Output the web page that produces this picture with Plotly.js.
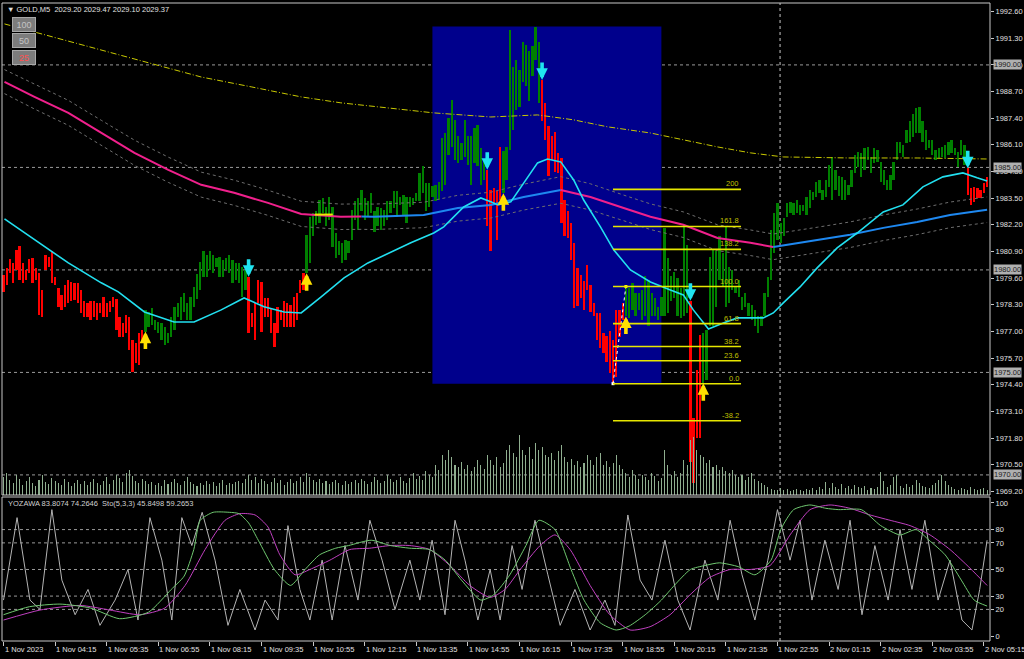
<!DOCTYPE html>
<html><head><meta charset="utf-8">
<script src="https://cdn.plot.ly/plotly-3.0.1.min.js"></script>
<style>html,body{margin:0;padding:0;background:#000;overflow:hidden}#chart{width:1024px;height:659px}</style>
</head><body><div id="chart"></div>
<script>
// ---------- DATA ----------
const highs = [
1979.76,1980.08,1980.52,1980.33,1980.98,1981.17,1980.33,1980.0,1980.52,1980.57,1980.08,1979.87,1979.02,1980.73,1980.65,1980.9,1979.67,1979.1,1978.78,1979.27,1979.51,1979.4,1979.35,1979.35,1979.02,1978.46,1978.37,1978.46,1978.46,1978.37,1978.37,1978.7,1978.37,1978.46,1978.7,1978.57,1977.72,1977.4,1977.8,1977.72,1976.58,1976.42,1976.91,1977.07,
1978.05,1977.97,1978.13,1977.56,1977.48,1977.4,1977.23,1976.91,1977.72,1978.21,1978.37,1978.7,1978.86,1978.37,1978.7,1979.19,1979.8,1980.41,1980.9,1980.73,1980.9,1980.73,1980.57,1980.65,1980.49,1980.57,1980.73,1980.49,1980.33,1980.33,1980.16,1980.0,
1979.67,1977.89,1978.37,1979.51,1979.43,1978.62,1978.62,1978.13,1977.4,1978.21,1978.05,1978.46,1978.37,1978.29,1978.7,1978.86,1979.51,1979.84,
1981.7,1982.6,1982.77,1982.85,1983.42,1983.5,1983.09,1983.58,1983.09,1981.79,1981.39,1981.31,1981.47,1981.39,1982.93,1983.34,1983.5,1983.91,1983.5,1983.34,1983.74,1982.85,1983.09,1983.01,1982.93,1983.34,1983.34,1983.83,1983.83,1983.58,1983.66,1983.58,1983.58,1983.5,1983.74,1984.72,1985.05,1984.23,1984.23,1984.07,1984.15,1984.31,1986.43,1986.67,1987.4,1988.3,1987.32,1986.51,1986.18,1987.32,1986.51,1986.51,1986.92,1987.08,1985.94,1985.37,
1984.88,1983.91,1983.99,1983.83,1986.02,
1985.78,1986.02,1991.71,1989.92,1990.25,1989.76,1991.14,1990.98,1990.66,1990.9,1991.87,1991.14,
1989.27,1988.13,1987.0,1986.51,1986.75,1985.69,1985.45,1983.42,1982.85,1982.28,1981.31,1980.09,1979.76,1979.44,1980.25,1979.27,1978.38,1977.89,1977.89,1976.92,1976.8,1977.0,1976.59,1978.05,1978.05,1978.38,
1979.19,1979.11,1979.35,1978.86,1978.86,1979.03,1979.68,1979.51,1978.86,1978.62,1978.21,1978.7,1982.03,1980.57,1979.68,1979.92,1979.6,1979.11,1982.12,1981.22,
1978.5,1972.77,1975.12,1976.83,
1976.91,1977.08,1980.65,1980.98,1980.9,1981.63,1980.81,1982.12,1980.16,1980.0,1979.19,1979.51,1978.7,1978.86,1978.38,1978.29,1978.05,1977.73,1977.73,1978.86,
1979.67,1981.95,1982.76,1983.25,1982.28,1982.52,1983.25,1983.33,1983.25,1983.41,1983.17,1983.17,1983.58,1983.9,1983.82,1984.31,1984.39,1983.9,1984.39,1985.12,1985.53,1984.88,1984.6,1984.55,1984.39,1984.14,1984.88,1985.61,1985.77,1985.69,1985.93,1986.02,1985.53,1985.93,1985.85,1985.28,1984.88,1984.39,1984.63,1985.28,1986.26,1986.26,1986.1,1986.83,1987.24,1987.6,1987.89,1987.97,1987.24,1986.83,1986.34,1986.34,1985.85,1985.93,1986.0,1986.1,1986.26,1986.34,1985.93,1985.77,1986.34,1986.1,
1984.96,1983.98,1984.06,1983.98,1983.9,1984.23,1984.55
];
const lows = [
1978.94,1979.27,1979.87,1979.35,1980.0,1979.51,1979.35,1979.51,1979.87,1979.35,1979.51,1977.8,1977.72,1980.0,1980.16,1979.35,1979.27,1978.21,1978.05,1978.21,1978.37,1978.5,1978.54,1978.37,1977.89,1977.72,1977.72,1977.56,1977.72,1977.56,1977.89,1977.72,1977.72,1977.97,1978.21,1977.07,1976.75,1976.75,1976.91,1976.1,1975.04,1975.45,1975.37,1976.42,
1976.99,1977.23,1977.32,1977.07,1976.91,1976.58,1976.34,1976.42,1976.75,1977.07,1977.72,1977.56,1977.97,1977.56,1977.56,1978.21,1978.6,1979.02,1979.67,1979.67,1980.0,1979.84,1980.16,1979.67,1979.67,1980.0,1979.84,1979.35,1979.51,1979.35,1978.7,1979.02,
1976.91,1977.23,1976.58,1978.37,1976.99,1977.72,1977.72,1976.91,1976.26,1976.91,1977.56,1977.23,1977.23,1977.23,1977.23,1977.56,1978.86,1979.02,
1979.84,1980.33,1981.63,1982.2,1982.28,1982.77,1982.12,1982.44,1981.14,1980.57,1980.74,1980.33,1980.49,1980.82,1981.47,1982.44,1981.96,1982.85,1982.44,1982.6,1982.77,1981.87,1982.12,1981.96,1982.12,1982.44,1982.77,1983.01,1982.6,1983.18,1982.69,1982.28,1983.09,1983.18,1983.34,1983.34,1983.74,1982.85,1983.09,1983.58,1983.34,1983.42,1983.83,1984.15,1985.61,1986.02,1985.37,1985.21,1985.37,1985.53,1985.13,1984.15,1985.21,1985.05,1984.15,1984.4,
1982.12,1980.9,1983.18,1981.47,1983.42,
1983.74,1984.4,1985.86,1986.83,1987.81,1987.97,1989.19,1988.95,1988.22,1989.44,1990.25,1988.13,
1987.24,1986.35,1984.56,1985.37,1984.8,1984.72,1982.28,1981.63,1981.55,1980.49,1978.13,1978.22,1978.62,1978.05,1979.03,1977.97,1977.73,1976.59,1976.18,1975.94,1975.5,1974.96,1974.45,1974.8,1976.75,1977.57,
1977.73,1977.64,1978.05,1977.73,1978.05,1977.56,1977.73,1977.24,1977.73,1977.73,1977.56,1977.73,1977.73,1977.89,1978.46,1978.62,1977.73,1977.64,1977.73,1977.89,
1970.65,1969.59,1971.79,1971.79,
1974.47,1974.64,1977.24,1977.24,1978.21,1979.51,1979.19,1978.21,1978.38,1979.03,1978.86,1978.7,1978.05,1978.21,1977.73,1977.56,1977.24,1976.91,1977.24,1977.73,
1978.7,1979.51,1980.81,1981.46,1981.3,1981.63,1982.6,1982.76,1982.68,1982.76,1982.68,1982.85,1982.68,1983.01,1983.41,1983.58,1983.74,1983.41,1983.58,1984.06,1983.41,1983.9,1983.6,1983.41,1983.41,1983.66,1984.06,1984.71,1985.04,1984.55,1984.88,1985.37,1984.71,1985.2,1985.28,1984.31,1984.14,1983.9,1983.9,1984.39,1985.37,1985.69,1985.53,1986.18,1986.26,1986.5,1986.67,1986.67,1986.26,1985.85,1985.93,1985.61,1985.37,1985.45,1985.5,1985.45,1985.61,1985.69,1985.61,1985.04,1985.61,1985.12,
1983.66,1983.17,1983.33,1983.5,1983.5,1983.74,1984.06
];
// trend colouring runs: [count, direction]
const trendRuns = [[44,'dn'],[32,'up'],[18,'dn'],[56,'up'],[5,'dn'],[12,'up'],[26,'dn'],[20,'up'],[4,'dn'],[82,'up'],[7,'dn']];
const volume = [
18,22,15,12,20,16,10,14,18,12,9,15,20,13,11,17,14,12,10,16,13,9,12,15,11,14,10,13,16,12,10,14,18,11,15,20,17,13,22,25,19,14,12,16,
14,11,13,10,12,9,15,11,13,16,12,10,14,18,13,11,9,12,10,14,11,13,9,12,15,10,12,11,13,14,12,16,
20,15,18,12,16,14,11,13,17,12,15,10,13,16,12,14,18,13,
22,18,15,13,16,12,14,11,13,15,12,10,14,11,13,15,12,16,14,11,13,18,15,12,14,20,16,13,15,18,14,12,17,22,16,19,15,24,20,18,
30,25,40,35,45,38,30,28,33,26,30,24,28,35,30,26,
40,35,30,38,28,32,45,50,42,38,60,45,40,48,36,52,45,
48,40,38,42,35,44,50,38,33,36,30,34,28,32,40,35,30,38,42,30,34,28,32,40,30,26,
22,18,25,20,16,20,18,15,22,19,14,17,45,30,20,24,18,22,35,30,
55,58,45,40,38,32,35,28,30,25,28,24,22,25,20,18,20,15,18,22,16,14,12,10,
8,6,5,5,7,5,6,4,5,6,5,4,6,5,7,5,8,6,13,7,12,8,6,11,7,9,6,10,8,7,9,5,7,6,8,23,14,8,10,18,20,9,7,11,8,10,15,12,9,8,7,10,12,15,20,14,10,8,6,5,7,6,5,8,6,5,6,7,5
];
// fast MA (cyan)
const fastMaX = [0.3,9.6,14.9,20.1,30.3,35.6,43.7,52.9,59.1,67.5,74.6,80.8,87,92.3,98.5,105.6,113,120.1,126.3,133.4,136.5,142.7,148,151.1,153.3,157.3,161.3,165.6,168.7,172.8,176.8,179.9,185.1,189.2,194.4,200.6,206.8,210.8,213.9,218.6,223.2,227.6,235.6,238.7,241.8,247,252.3,258.5,264.7,272.8,278.9,285.1,291.3,297.5,301.9,305];
const fastMaY = [1982.49,1981.46,1980.88,1980.34,1979.37,1978.93,1977.95,1977.46,1977.46,1978.05,1978.63,1978.2,1977.95,1977.9,1978.68,1979.61,1980.34,1980.88,1981.32,1981.8,1982.1,1983.07,1983.51,1983.32,1983.17,1983.32,1984.24,1985.22,1985.41,1985.27,1984.39,1983.41,1982.1,1980.98,1980.0,1979.41,1979.02,1978.78,1978.05,1977.12,1977.41,1977.66,1977.66,1977.9,1978.39,1979.17,1980.1,1981.07,1981.8,1982.83,1983.17,1984.05,1984.54,1984.73,1984.49,1984.34];
// slow MA (magenta falling / blue rising) and its envelope
const slowMaX = [0.3,9.6,20.1,30.3,40.6,51.1,61.3,71.5,82,92.3,104.6,111,114.9,130.3,140.9,151.1,161.3,172.8,182,192.3,200.6,210.8,221.4,231.6,238.7,252.3,262.5,272.8,283.3,293.5,305];
const slowMaY = [1989.17,1988.44,1987.66,1986.68,1985.71,1984.88,1984.15,1983.76,1983.27,1982.73,1982.59,1982.6,1982.59,1982.68,1983.02,1983.17,1983.56,1983.9,1983.56,1983.02,1982.59,1982.2,1981.56,1981.32,1981.12,1981.46,1981.71,1982.05,1982.34,1982.68,1982.93];
const envUpper = [1989.77,1989.05,1988.27,1987.3,1986.33,1985.5,1984.77,1984.38,1983.89,1983.35,1983.21,1983.22,1983.21,1983.3,1983.64,1983.79,1984.18,1984.55,1984.2,1983.65,1983.22,1982.83,1982.2,1981.95,1981.75,1982.08,1982.34,1982.68,1982.97,1983.31,1983.56];
const envLower = [1988.6,1987.85,1987.05,1986.08,1985.1,1984.27,1983.55,1983.15,1982.66,1982.12,1981.97,1981.98,1981.97,1982.06,1982.38,1982.53,1982.92,1983.25,1982.92,1982.4,1981.97,1981.58,1980.94,1980.7,1980.5,1980.84,1981.09,1981.43,1981.72,1982.06,1982.31];
const slowMaRuns = [[0,111,'dn'],[111,172.8,'up'],[172.8,238.7,'dn'],[238.7,305,'up']];
const slowMaFlat = [[96.5,102.1,1982.7]];
// long MA (yellow dash-dot)
const longMaX = [0.3,11.8,30.3,45.8,61.3,76.8,92.3,104.6,120.1,133.4,151.1,165.6,176.8,187.3,200.6,210.8,221.4,231.6,241.8,262.5,283.3,305];
const longMaY = [1992.0,1991.51,1990.73,1990.1,1989.41,1988.93,1988.44,1988.15,1987.9,1987.66,1987.46,1987.56,1987.32,1986.98,1986.68,1986.34,1986.0,1985.71,1985.51,1985.46,1985.46,1985.41];
// signals
const upSignals = [44,94,155,193,217];
const downSignals = [76,150,167,213,299];
// fibonacci
const fibLevels = [200,161.8,138.2,100,61.8,38.2,23.6,0,-38.2];
const fibLabels = ['200','161.8','138.2','100.0','61.8','38.2','23.6','0.0','-38.2'];
const fibLowIdx = 189, fibHighIdx = 193, fibEndIdx = 228.7;
// highlighted box
const boxFromIdx = 133, boxToIdx = 204, boxHighIdx = 165, boxLowIdx = 189;
// horizontal levels
const hLevels = [1990, 1985, 1980, 1975, 1970];
const priceTicks = [1992.6,1991.3,1990.0,1988.7,1987.4,1986.1,1984.8,1983.5,1982.2,1980.9,1979.6,1978.3,1977.0,1975.7,1974.4,1973.1,1971.8,1970.5,1969.2];
const oscTicks = [0,20,30,50,70,80,100];
const oscLevels = [20,30,50,70,80];
const timeTickIdx = [0,16,32,48,64,80,96,112,128,144,160,176,192,208,224,240,256,272,288,304];
const timeLabels = ['1 Nov 2023','1 Nov 04:15','1 Nov 05:35','1 Nov 06:55','1 Nov 08:15','1 Nov 09:35','1 Nov 10:55','1 Nov 12:15','1 Nov 13:35','1 Nov 14:55','1 Nov 16:15','1 Nov 17:35','1 Nov 18:55','1 Nov 20:15','1 Nov 21:35','1 Nov 22:55','2 Nov 01:15','2 Nov 02:35','2 Nov 03:55','2 Nov 05:15'];
const daySeparatorIdx = 240.8;
// oscillators
const stochKX = [0,8,17.5,27,36,45,52,56,59,61,65,70,73,76,79,84,89,93.5,98,103,107,114,120,126,132,137,142,148,152,157,162,166,171,176,180,185,190,194,199,204,208,213,217.5,222,228,233,238,241,245,250,255,259,266,272,278,283,287,292,297,301,305];
const stochK = [16,22,24,21,13,18,35,45,65,87,93,93,92,85,72,50,38,50,61,66,68,72,68,66,65,57,42,27,31,46,68,87,80,50,27,10,4.5,7.5,16,27,38,50,53,55,52,46,57,80,95,98.5,96,95,95,83,76,80,72,61,42,27,22.5];
const stochDX = [0,11.3,23.7,33,42.3,50,56.3,62.5,68.7,73.3,78,82,85.7,90.4,95,101.2,107.4,113.6,119.8,126,132.2,138.4,144.6,150.9,155.5,160.2,166.4,171,175.7,181.9,188,194.3,200.5,206.7,212.9,219,225.3,231.5,237.7,243.9,250.1,256.3,262.5,268.7,274.9,281.1,287.3,293.5,299.7,305];
const stochD = [12,19.5,23,19.5,16,21,38,65,87,92,91,82,61,46,50,57,65,66,68,68,65,53,38,29,35,50,68,76,65,38,16,4.5,7,16,31,44,50,50,53,76,95,98.5,96,91,87,83,76,65,51,38];
const yozX = [0,4.2,8.2,11.3,15,18.1,22.2,26.2,29.9,34.6,38.6,41.7,45.4,49.1,52.2,55.3,58.4,61.6,65.6,69.6,73.3,78,81.1,85.1,88.2,91.9,95,98.8,101.9,105.9,109.9,113.6,117.4,121.4,126,129.1,132.9,136.9,140,143.1,147.1,150.9,154,157.7,160.8,164.8,168.8,172.6,177.2,181.9,186.5,189.6,193.6,197.4,201.1,205.1,209.1,212.9,217.5,221.5,225.3,229,233,237,240,243.9,247,250.7,254.7,258.8,262.5,266.2,270.2,274.3,278,281.7,285.7,289.8,293.5,297.2,300.3,302.7,305];
const yoz = [27,89,27,20,95,42,16,35,8,27,50,12,89,57,12,89,68,93,57,8,35,4.5,27,12,83,35,12,57,12,68,27,87,57,20,57,27,72,16,87,57,12,50,12,68,35,87,46,8,35,4.5,27,8,91,42,27,72,27,4.5,57,27,87,46,12,57,95,57,87,27,72,35,87,16,68,27,80,35,87,27,57,12,4.5,35,72];

// ---------- BUILD ----------
const N = highs.length;
const idx = Array.from({length:N},(_,i)=>i);
const dirs = [];
trendRuns.forEach(([n,d])=>{for(let k=0;k<n;k++)dirs.push(d);});
const barColors = dirs.map(d=>d==='up'?'#008000':'#ff0000');
const ranges = highs.map((h,i)=>+(h-lows[i]).toFixed(2));

const PX = x=>(x-2)/988, PY = y=>(641-y)/638;
const FONT = 'Liberation Sans, Arial, sans-serif';

const traces = [];
traces.push({type:'bar',x:idx,y:volume,yaxis:'y3',marker:{color:'#8fae8f',line:{width:0}},width:0.32,hoverinfo:'skip'});
traces.push({type:'scatter',mode:'lines',x:longMaX,y:longMaY,line:{color:'#c8c800',width:1,dash:'6px,2px,1px,2px'},hoverinfo:'skip'});
traces.push({type:'scatter',mode:'lines',x:slowMaX,y:envUpper,line:{color:'#6e6e6e',width:1,dash:'dot'},hoverinfo:'skip'});
traces.push({type:'scatter',mode:'lines',x:slowMaX,y:envLower,line:{color:'#6e6e6e',width:1,dash:'dot'},hoverinfo:'skip'});
traces.push({type:'bar',x:idx,y:ranges,base:lows,marker:{color:barColors,line:{width:0}},width:0.72,hoverinfo:'skip'});
slowMaRuns.forEach(([a,b,d])=>{
  const xs=[],ys=[];
  slowMaX.forEach((x,k)=>{if(x>=a&&x<=b){xs.push(x);ys.push(slowMaY[k]);}});
  traces.push({type:'scatter',mode:'lines',x:xs,y:ys,line:{color:d==='up'?'#1e88f0':'#f0208c',width:2},hoverinfo:'skip'});
});
slowMaFlat.forEach(([a,b,p])=>traces.push({type:'scatter',mode:'lines',x:[a,b],y:[p,p],line:{color:'#e8e800',width:2},hoverinfo:'skip'}));
traces.push({type:'scatter',mode:'lines',x:fastMaX,y:fastMaY,line:{color:'#22e0f0',width:1.6},hoverinfo:'skip'});
// fib anchor line
traces.push({type:'scatter',mode:'lines+markers',x:[fibLowIdx,fibHighIdx],y:[lows[fibLowIdx],highs[fibHighIdx]],line:{color:'#ffffff',width:1,dash:'dot'},marker:{size:3,color:['#ffffff','#ffff00'],symbol:'square'},hoverinfo:'skip'});
// oscillators
traces.push({type:'scatter',mode:'lines',x:yozX,y:yoz,yaxis:'y2',line:{color:'#b4b4b4',width:1},hoverinfo:'skip'});
traces.push({type:'scatter',mode:'lines',x:stochDX,y:stochD,yaxis:'y2',line:{color:'#c040c0',width:1,shape:'spline',smoothing:0.6},hoverinfo:'skip'});
traces.push({type:'scatter',mode:'lines',x:stochKX,y:stochK,yaxis:'y2',line:{color:'#70c870',width:1,shape:'spline',smoothing:0.6},hoverinfo:'skip'});

const shapes = [];
shapes.push({type:'rect',xref:'x',yref:'y',x0:boxFromIdx,x1:boxToIdx,y0:lows[boxLowIdx],y1:highs[boxHighIdx],fillcolor:'#00008c',line:{width:0},layer:'below'});
hLevels.forEach(l=>shapes.push({type:'line',xref:'paper',yref:'y',x0:0,x1:1,y0:l,y1:l,line:{color:'#9a9a9a',width:1,dash:'3px,3px'},layer:'below'}));
oscLevels.forEach(l=>shapes.push({type:'line',xref:'paper',yref:'y2',x0:0,x1:1,y0:l,y1:l,line:{color:'#9a9a9a',width:1,dash:'3px,3px'},layer:'below'}));
shapes.push({type:'line',xref:'x',yref:'paper',x0:daySeparatorIdx,x1:daySeparatorIdx,y0:0,y1:1,line:{color:'#c8c8c8',width:1,dash:'dot'},layer:'below'});
const fibLo = lows[fibLowIdx], fibHi = highs[fibHighIdx];
const fibPrice = l=>fibLo+(fibHi-fibLo)*l/100;
fibLevels.forEach(l=>shapes.push({type:'line',xref:'x',yref:'y',x0:fibLowIdx,x1:fibEndIdx,y0:fibPrice(l),y1:fibPrice(l),line:{color:'#e6e600',width:1.6}}));
// panel frames
shapes.push({type:'rect',xref:'paper',yref:'paper',x0:0,x1:1,y0:PY(495),y1:1,line:{color:'#c8c8c8',width:1},fillcolor:'rgba(0,0,0,0)'});
shapes.push({type:'rect',xref:'paper',yref:'paper',x0:0,x1:1,y0:0,y1:PY(497),line:{color:'#c8c8c8',width:1},fillcolor:'rgba(0,0,0,0)'});

const ann = [];
upSignals.forEach(i=>ann.push({x:i,y:lows[i],xref:'x',yref:'y',text:'',showarrow:true,ax:0,ay:19,arrowcolor:'#ffe000',arrowwidth:3.6,arrowhead:2,arrowsize:0.64,standoff:0}));
downSignals.forEach(i=>ann.push({x:i,y:highs[i],xref:'x',yref:'y',text:'',showarrow:true,ax:0,ay:-19,arrowcolor:'#20e4f0',arrowwidth:3.6,arrowhead:2,arrowsize:0.64,standoff:0}));
fibLevels.forEach((l,k)=>ann.push({x:fibEndIdx,y:fibPrice(l),xref:'x',yref:'y',text:fibLabels[k],showarrow:false,xanchor:'right',yanchor:'bottom',yshift:-1,font:{family:FONT,size:7.5,color:'#c0c000'}}));
hLevels.forEach(l=>ann.push({x:1,xref:'paper',y:l,yref:'y',xanchor:'left',xshift:3,text:l.toFixed(2),showarrow:false,bgcolor:'#b0b0b0',borderpad:0,font:{family:FONT,size:7.5,color:'#202020'}}));
timeTickIdx.forEach((t,k)=>ann.push({x:t,xref:'x',y:0,yref:'paper',yanchor:'top',xanchor:'left',xshift:-1,yshift:-2,text:timeLabels[k],showarrow:false,font:{family:FONT,size:7.5,color:'#e0e0e0'}}));
ann.push({x:PX(5),y:PY(9),xref:'paper',yref:'paper',xanchor:'left',yanchor:'middle',text:'▼ GOLD,M5  2029.20 2029.47 2029.10 2029.37',showarrow:false,font:{family:FONT,size:7.5,color:'#e0e0e0'}});
[['100',25,'#c4c4c4'],['50',40,'#c4c4c4'],['25',57,'#ff5050']].forEach(([t,y,c])=>ann.push({x:PX(24),y:PY(y),xref:'paper',yref:'paper',xanchor:'center',yanchor:'middle',text:t,showarrow:false,width:22,height:13,bgcolor:'#7c7c7c',bordercolor:'#a8a8a8',borderwidth:1,borderpad:0,font:{family:FONT,size:9,color:c}}));
ann.push({x:PX(6),y:PY(503),xref:'paper',yref:'paper',xanchor:'left',yanchor:'middle',text:'YOZAWA 83.8074 74.2646  Sto(5,3,3) 45.8498 59.2653',showarrow:false,font:{family:FONT,size:7.5,color:'#d0d0d0'}});

const layout = {
  width:1024,height:659,paper_bgcolor:'#000',plot_bgcolor:'#000',
  margin:{l:2,r:34,t:3,b:18},showlegend:false,hovermode:false,barmode:'overlay',bargap:0,
  xaxis:{domain:[0,1],range:[-0.47,305.9],anchor:'y2',showgrid:false,zeroline:false,showline:false,
    tickvals:timeTickIdx,ticks:'outside',ticklen:4,tickcolor:'#c8c8c8',showticklabels:false},
  yaxis:{domain:[PY(495),1],range:[1969.02,1993.02],side:'right',anchor:'x',showgrid:false,zeroline:false,showline:false,
    tickvals:priceTicks,ticktext:priceTicks.map(v=>v.toFixed(2)),ticks:'outside',ticklen:3,tickcolor:'#c8c8c8',
    tickfont:{family:FONT,size:7.5,color:'#e0e0e0'}},
  yaxis3:{overlaying:'y',range:[0,492],visible:false,fixedrange:true},
  yaxis2:{domain:[0,PY(497)],range:[-3.76,104.5],side:'right',anchor:'x',showgrid:false,zeroline:false,showline:false,
    tickvals:oscTicks,ticks:'outside',ticklen:3,tickcolor:'#c8c8c8',tickfont:{family:FONT,size:7.5,color:'#e0e0e0'}},
  shapes:shapes,annotations:ann
};
Plotly.newPlot('chart',traces,layout,{staticPlot:true,displayModeBar:false});
</script></body></html>
